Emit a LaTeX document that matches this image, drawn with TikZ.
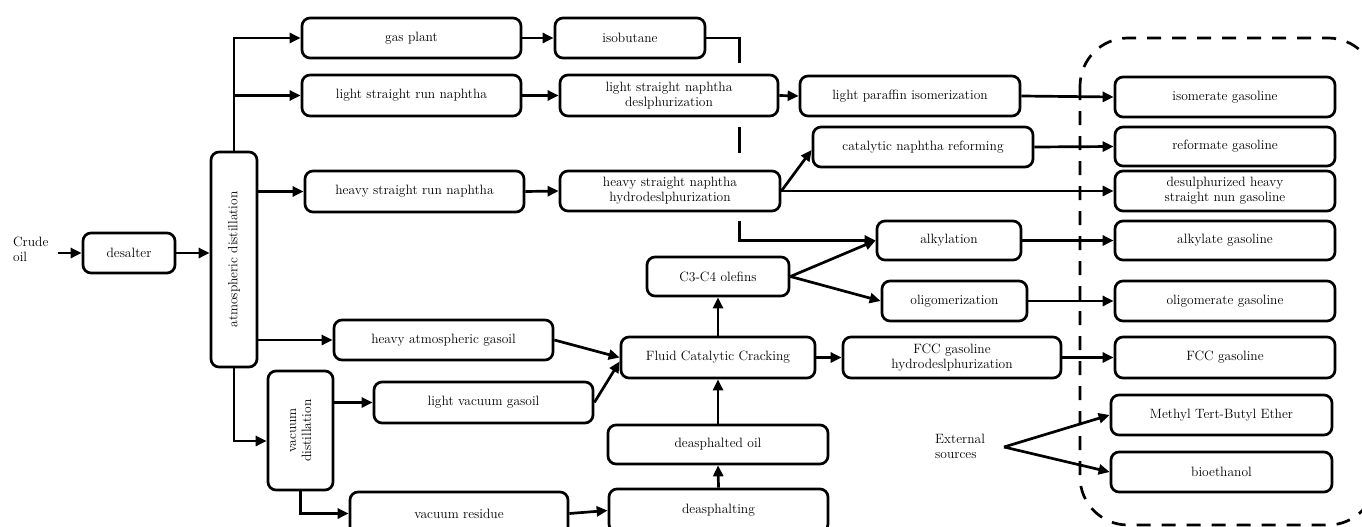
\documentclass[tikz,border=0pt]{standalone}
\usepackage{graphicx}
\usetikzlibrary{arrows.meta,calc}
\tikzset{
  lbl/.style={font=\fontsize{13.5}{15}\selectfont},
  box/.style={lbl, draw, line width=2.7pt, rounded corners=8pt, align=center, inner sep=0pt},
  plain/.style={lbl, align=left, inner sep=0pt},
  arr/.style={line width=2.7pt, -{Triangle[length=11pt,width=10pt]}},
  group/.style={line width=2.7pt, dash pattern=on 14pt off 11pt, rounded corners=48pt}
}
\begin{document}
\begin{tikzpicture}[x=1pt,y=-1pt]
\useasboundingbox (0,0) rectangle (1362,527);
% dashed group
\draw[group] (1080,38) rectangle (1376,525);
% free text
\node[plain, anchor=west] (crude) at (13,249.5) {Crude\\oil};
\node[plain, anchor=west] (ext) at (935,446) {External\\sources};
\coordinate (apex) at (1004,447);
% boxes
\node[box, minimum width=92pt, minimum height=40pt] (desalter) at (129,253) {desalter};
\node[box, minimum width=46pt, minimum height=215pt] (atm) at (234,259.5) {\rotatebox{90}{atmospheric distillation}};
\node[box, minimum width=219pt, minimum height=40pt] (gas) at (411.5,38) {gas plant};
\node[box, minimum width=219pt, minimum height=41pt] (lsrn) at (411.5,95.5) {light straight run naphtha};
\node[box, minimum width=219pt, minimum height=41pt] (hsrn) at (414.5,191.5) {heavy straight run naphtha};
\node[box, minimum width=219pt, minimum height=40pt] (hag) at (443.5,340) {heavy atmospheric gasoil};
\node[box, minimum width=65pt, minimum height=119pt] (vac) at (300.5,430.5) {\rotatebox{90}{\begin{tabular}{@{}c@{}}vacuum\\distillation\end{tabular}}};
\node[box, minimum width=219pt, minimum height=41pt] (lvg) at (483.5,402.5) {light vacuum gasoil};
\node[box, minimum width=218pt, minimum height=43pt] (vr) at (459,513.5) {vacuum residue};
\node[box, minimum width=150pt, minimum height=40pt] (isob) at (630,38) {isobutane};
\node[box, minimum width=218pt, minimum height=41pt] (lsnd) at (669,95.5) {light straight naphtha\\deslphurization};
\node[box, minimum width=220pt, minimum height=40pt] (hsnh) at (670,191) {heavy straight naphtha\\hydrodeslphurization};
\node[box, minimum width=220pt, minimum height=40pt] (lpi) at (910,96) {light paraffin isomerization};
\node[box, minimum width=220pt, minimum height=40pt] (cnr) at (923,147) {catalytic naphtha reforming};
\node[box, minimum width=144pt, minimum height=39pt] (alk) at (949,240.5) {alkylation};
\node[box, minimum width=145pt, minimum height=40pt] (olig) at (954.5,301) {oligomerization};
\node[box, minimum width=142pt, minimum height=39pt] (olef) at (718,276.5) {C3-C4 olefins};
\node[box, minimum width=194pt, minimum height=41pt] (fcc) at (718,357.5) {Fluid Catalytic Cracking};
\node[box, minimum width=218pt, minimum height=41pt] (fcch) at (952,357.5) {FCC gasoline\\hydrodeslphurization};
\node[box, minimum width=220pt, minimum height=39pt] (dao) at (718,444.5) {deasphalted oil};
\node[box, minimum width=219pt, minimum height=43pt] (dea) at (718.5,510.5) {deasphalting};
% right column
\node[box, minimum width=220pt, minimum height=40pt] (isog) at (1225,97) {isomerate gasoline};
\node[box, minimum width=220pt, minimum height=39pt] (refg) at (1225,146.5) {reformate gasoline};
\node[box, minimum width=220pt, minimum height=40pt] (dhs) at (1225,191) {desulphurized heavy\\straight nun gasoline};
\node[box, minimum width=220pt, minimum height=39pt] (alkg) at (1225,240.5) {alkylate gasoline};
\node[box, minimum width=220pt, minimum height=40pt] (oligg) at (1225,301) {oligomerate gasoline};
\node[box, minimum width=220pt, minimum height=41pt] (fccg) at (1225,357.5) {FCC gasoline};
\node[box, minimum width=221pt, minimum height=40pt] (mtbe) at (1221.5,415) {Methyl Tert-Butyl Ether};
\node[box, minimum width=221pt, minimum height=40pt] (bio) at (1221.5,472) {bioethanol};
% connectors
\draw[arr, shorten <=9pt] (crude.east |- desalter.west) -- (desalter.west);
\draw[arr] (desalter.east) -- (desalter.east -| atm.west);
\draw[arr] (atm.north) |- (gas.west);
\draw[arr] (atm.north |- lsrn.west) -- (lsrn.west);
\draw[arr] (atm.east |- hsrn.west) -- (hsrn.west);
\draw[arr] (atm.east |- hag.west) -- (hag.west);
\draw[arr] (atm.south) |- ($(vac.west)+(0,10.5)$);
\draw[arr] (vac.east |- lvg.west) -- (lvg.west);
\draw[arr] (vac.south) |- (vr.west);
\draw[arr] (vr.east) -- (dea.west);
\draw[arr] (dea.north) -- (dao.south);
\draw[arr] (dao.north) -- (fcc.south);
\draw[arr] (hag.east) -- (fcc.west);
\draw[arr] (lvg.east) -- ($(fcc.west)+(0,4)$);
\draw[arr] (fcc.north) -- (olef.south);
\draw[arr] (fcc.east) -- (fcch.west);
\draw[arr] (fcch.east) -- (fccg.west);
\draw[arr] (olef.east) -- (alk.west);
\draw[arr] (olef.east) -- (olig.west);
\draw[arr] (gas.east) -- (isob.west);
\draw[arr, dash pattern=on 58pt off 64pt on 26pt off 68pt on 400pt off 1pt] (isob.east) -- ++(33,0) |- (alk.west);
\draw[arr] (lsrn.east) -- (lsnd.west);
\draw[arr] (lsnd.east) -- (lpi.west);
\draw[arr] (lpi.east) -- (isog.west);
\draw[arr] (hsrn.east) -- (hsnh.west);
\draw[arr] (hsnh.east) -- ($(cnr.west)+(0,3)$);
\draw[arr] (hsnh.east) -- (dhs.west);
\draw[arr] (cnr.east) -- (refg.west);
\draw[arr] (alk.east) -- (alkg.west);
\draw[arr] (olig.east) -- (oligg.west);
\draw[arr] (apex) -- (mtbe.west);
\draw[arr] (apex) -- (bio.west);
\end{tikzpicture}
\end{document}
